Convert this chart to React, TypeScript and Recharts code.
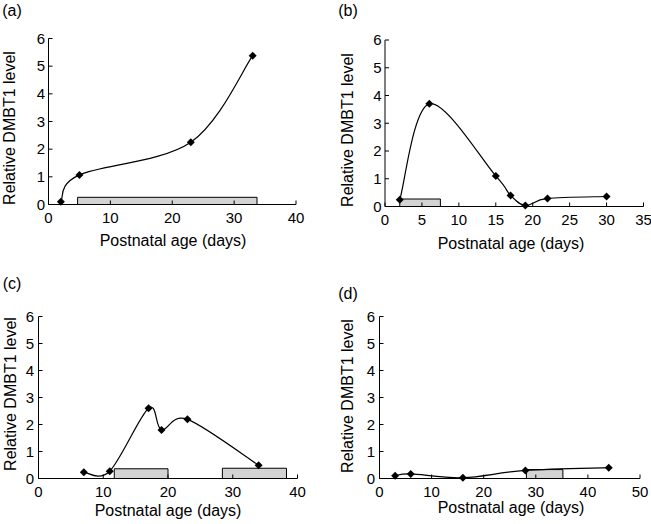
import { ComposedChart, Line, XAxis, YAxis, ReferenceArea } from 'recharts';

const FONT = '"Liberation Sans", Arial, Helvetica, sans-serif';

// panel (a)
const daysA = [2, 5, 23, 33];
const levelsA = [0.1, 1.07, 2.25, 5.38];
const periodsA = [[4.7, 33.7, 0.26]];
const xTicksA = [0, 10, 20, 30, 40];

// panel (b)
const daysB = [2, 6, 15, 17, 19, 22, 30];
const levelsB = [0.24, 3.7, 1.1, 0.4, 0.04, 0.29, 0.36];
const periodsB = [[2, 7.5, 0.27]];
const xTicksB = [0, 5, 10, 15, 20, 25, 30, 35];

// panel (c)
const daysC = [7, 11, 17, 19, 23, 34];
const levelsC = [0.23, 0.27, 2.6, 1.8, 2.19, 0.49];
const periodsC = [
  [11.7, 20, 0.36],
  [28.4, 38.3, 0.38],
];
const xTicksC = [0, 10, 20, 30, 40];

// panel (d)
const daysD = [3, 6, 16, 28, 44];
const levelsD = [0.1, 0.17, 0.03, 0.3, 0.4];
const periodsD = [[28.2, 35.2, 0.33]];
const xTicksD = [0, 10, 20, 30, 40, 50];

const yTicks = [0, 1, 2, 3, 4, 5, 6];

// smoothed line like the spreadsheet "smoothed line" option (catmull-rom style)
function smoothCurve(context: any) {
  let pts: number[][] = [];
  return {
    areaStart() {},
    areaEnd() {},
    lineStart() {
      pts = [];
    },
    lineEnd() {
      if (!pts.length) return;
      context.moveTo(pts[0][0], pts[0][1]);
      for (let i = 0; i < pts.length - 1; i++) {
        const p0 = pts[i - 1] || pts[i];
        const p1 = pts[i];
        const p2 = pts[i + 1];
        const p3 = pts[i + 2] || p2;
        context.bezierCurveTo(
          p1[0] + (p2[0] - p0[0]) / 6,
          p1[1] + (p2[1] - p0[1]) / 6,
          p2[0] - (p3[0] - p1[0]) / 6,
          p2[1] - (p3[1] - p1[1]) / 6,
          p2[0],
          p2[1],
        );
      }
    },
    point(x: number, y: number) {
      pts.push([+x, +y]);
    },
  };
}

function Diamond(props: any) {
  const { cx, cy } = props;
  if (cx == null || cy == null) return <g />;
  const r = 4;
  return <path d={`M${cx},${cy - r}L${cx + r},${cy}L${cx},${cy + r}L${cx - r},${cy}Z`} fill="#000" />;
}

interface PanelProps {
  tag: string;
  days: number[];
  levels: number[];
  periods: number[][];
  xTicks: number[];
  box: { left: number; top: number; w: number; h: number };
  plot: { x0: number; y0: number; x1: number; y1: number };
  yLabelGap: number;
}

function Panel({ days, levels, periods, xTicks, box, plot, yLabelGap }: PanelProps) {
  const data = days.map((d, i) => ({ day: d, level: levels[i] }));
  const xMax = xTicks[xTicks.length - 1];
  const tickStyle = { fill: '#000', fontSize: 15, fontFamily: FONT };
  return (
    <div style={{ position: 'absolute', left: box.left, top: box.top }}>
      <ComposedChart
        width={box.w}
        height={box.h}
        data={data}
        margin={{ top: plot.y0 - box.top, right: box.left + box.w - plot.x1, bottom: 0, left: 0 }}
      >
        <XAxis
          dataKey="day"
          type="number"
          domain={[0, xMax]}
          ticks={xTicks}
          interval={0}
          height={box.top + box.h - plot.y1}
          axisLine={{ stroke: '#000' }}
          tickLine={{ stroke: '#000' }}
          tickSize={-4}
          tickMargin={12}
          tick={tickStyle}
        />
        <YAxis
          type="number"
          domain={[0, 6]}
          ticks={yTicks}
          interval={0}
          width={plot.x0 - box.left}
          axisLine={{ stroke: '#000' }}
          tickLine={{ stroke: '#000' }}
          tickSize={-4}
          tickMargin={4 + yLabelGap}
          tick={tickStyle}
        />
        {periods.map((p, i) => (
          <ReferenceArea
            key={i}
            x1={p[0]}
            x2={p[1]}
            y1={0}
            y2={p[2]}
            fill="#d3d3d3"
            fillOpacity={1}
            stroke="#000"
            strokeWidth={1}
          />
        ))}
        <Line
          dataKey="level"
          type={smoothCurve as any}
          stroke="#000"
          strokeWidth={1.2}
          dot={Diamond}
          activeDot={false}
          isAnimationActive={false}
        />
      </ComposedChart>
    </div>
  );
}

function Text({ x, y, text, rotate }: { x: number; y: number; text: string; rotate?: boolean }) {
  return (
    <div
      style={{
        position: 'absolute',
        left: x,
        top: y,
        transform: `translate(-50%, -50%)${rotate ? ' rotate(-90deg)' : ''}`,
        whiteSpace: 'nowrap',
        fontFamily: FONT,
        fontSize: 16,
        lineHeight: '20px',
        color: '#000',
      }}
    >
      {text}
    </div>
  );
}

const X_TITLE = 'Postnatal age (days)';
const Y_TITLE = 'Relative DMBT1 level';

export default function App() {
  return (
    <div
      style={{
        position: 'absolute',
        left: 0,
        top: 0,
        width: 651,
        height: 524,
        background: '#fff',
        overflow: 'hidden',
      }}
    >
      <Panel
        tag="(a)"
        days={daysA}
        levels={levelsA}
        periods={periodsA}
        xTicks={xTicksA}
        box={{ left: 0, top: 0, w: 325, h: 262 }}
        plot={{ x0: 48.5, y0: 38.5, x1: 296, y1: 204.5 }}
        yLabelGap={3.5}
      />
      <Panel
        tag="(b)"
        days={daysB}
        levels={levelsB}
        periods={periodsB}
        xTicks={xTicksB}
        box={{ left: 325, top: 0, w: 326, h: 262 }}
        plot={{ x0: 385, y0: 40, x1: 643.5, y1: 206.5 }}
        yLabelGap={3.5}
      />
      <Panel
        tag="(c)"
        days={daysC}
        levels={levelsC}
        periods={periodsC}
        xTicks={xTicksC}
        box={{ left: 0, top: 265, w: 325, h: 259 }}
        plot={{ x0: 38.5, y0: 316.5, x1: 297.5, y1: 478.5 }}
        yLabelGap={4.5}
      />
      <Panel
        tag="(d)"
        days={daysD}
        levels={levelsD}
        periods={periodsD}
        xTicks={xTicksD}
        box={{ left: 325, top: 265, w: 326, h: 259 }}
        plot={{ x0: 379.5, y0: 316.5, x1: 640, y1: 478.5 }}
        yLabelGap={4.5}
      />

      <Text x={12} y={10.5} text="(a)" />
      <Text x={348} y={10.5} text="(b)" />
      <Text x={12} y={284} text="(c)" />
      <Text x={348} y={293.5} text="(d)" />

      <Text x={173} y={241} text={X_TITLE} />
      <Text x={511} y={244} text={X_TITLE} />
      <Text x={168} y={511} text={X_TITLE} />
      <Text x={511} y={508} text={X_TITLE} />

      <Text x={10} y={128} text={Y_TITLE} rotate />
      <Text x={347.5} y={130} text={Y_TITLE} rotate />
      <Text x={10.5} y={394} text={Y_TITLE} rotate />
      <Text x={347.5} y={396} text={Y_TITLE} rotate />
    </div>
  );
}
